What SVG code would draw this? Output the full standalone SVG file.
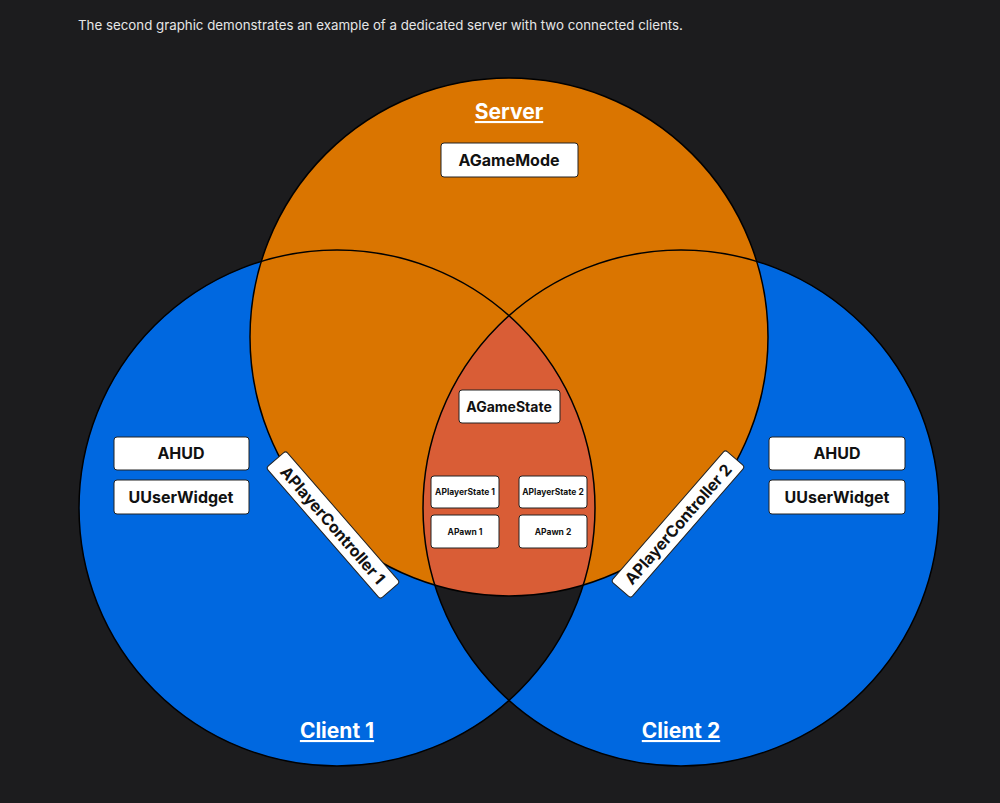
<svg xmlns="http://www.w3.org/2000/svg" width="1000" height="803" viewBox="0 0 1000 803">
<style>
text{font-family:Inter,"Liberation Sans",sans-serif;font-weight:700;fill:#111;text-anchor:middle}
.b{fill:#fff;stroke:#222;stroke-width:1}
.c{stroke:#000;stroke-width:1.5;fill:none}
.t{font-size:16px}
.s{font-size:8.5px}
.h{font-size:21px;fill:#fff;text-decoration:underline}
</style>
<defs>
<clipPath id="c1"><circle cx="337" cy="508" r="258"/></clipPath>
<clipPath id="c2" clip-path="url(#c1)"><circle cx="681" cy="508" r="258"/></clipPath>
<clipPath id="c3" clip-path="url(#c2)"><circle cx="509" cy="337" r="259"/></clipPath>
</defs>
<rect width="1000" height="803" fill="#1c1c1e"/>
<text x="78" y="30" style="font-size:13.3px;font-weight:400;fill:#e6e6e6;text-anchor:start">The second graphic demonstrates an example of a dedicated server with two connected clients.</text>
<g id="client1"><circle cx="337" cy="508" r="258" fill="#0068e0"/></g>
<g id="client2"><circle cx="681" cy="508" r="258" fill="#0068e0"/>
<rect x="0" y="0" width="1000" height="803" fill="#1c1c1e" clip-path="url(#c2)"/></g>
<g id="server"><circle cx="509" cy="337" r="259" fill="#da7500"/>
<rect x="0" y="0" width="1000" height="803" fill="#d95d36" clip-path="url(#c3)"/></g>
<circle class="c" cx="337" cy="508" r="258"/>
<circle class="c" cx="681" cy="508" r="258"/>
<circle class="c" cx="509" cy="337" r="259"/>
<g id="connectors"/>
<text class="h" x="509" y="119">Server</text>
<text class="h" x="337" y="738">Client 1</text>
<text class="h" x="681" y="738">Client 2</text>
<g id="gamemode"><rect class="b" x="441" y="143" width="137" height="34" rx="3"/><text class="t" x="509" y="166">AGameMode</text></g>
<g id="gamestate"><rect class="b" x="459" y="390" width="101" height="33" rx="3"/><text class="t" x="509" y="412" style="font-size:14px">AGameState</text></g>
<g id="ps1"><rect class="b" x="431" y="476" width="68" height="32" rx="3"/><text class="s" x="465" y="495">APlayerState 1</text></g>
<g id="ps2"><rect class="b" x="519" y="476" width="68" height="32" rx="3"/><text class="s" x="553" y="495">APlayerState 2</text></g>
<g id="pawn1"><rect class="b" x="431" y="515" width="68" height="33" rx="3"/><text class="s" x="465" y="535">APawn 1</text></g>
<g id="pawn2"><rect class="b" x="519" y="515" width="68" height="33" rx="3"/><text class="s" x="553" y="535">APawn 2</text></g>
<g id="hud1"><rect class="b" x="114" y="437" width="135" height="33" rx="3"/><text class="t" x="181" y="459">AHUD</text></g>
<g id="uw1"><rect class="b" x="114" y="480" width="135" height="34" rx="3"/><text class="t" x="181" y="503">UUserWidget</text></g>
<g id="hud2"><rect class="b" x="769" y="437" width="136" height="33" rx="3"/><text class="t" x="837" y="459">AHUD</text></g>
<g id="uw2"><rect class="b" x="769" y="480" width="136" height="34" rx="3"/><text class="t" x="837" y="503">UUserWidget</text></g>
<g id="pc1" transform="translate(333,525) rotate(49)"><rect class="b" x="-87" y="-13" width="174" height="26" rx="3"/><text class="t" x="0" y="6">APlayerController 1</text></g>
<g id="pc2" transform="translate(678,524) rotate(-49)"><rect class="b" x="-87" y="-13" width="174" height="26" rx="3"/><text class="t" x="0" y="6">APlayerController 2</text></g>
</svg>
